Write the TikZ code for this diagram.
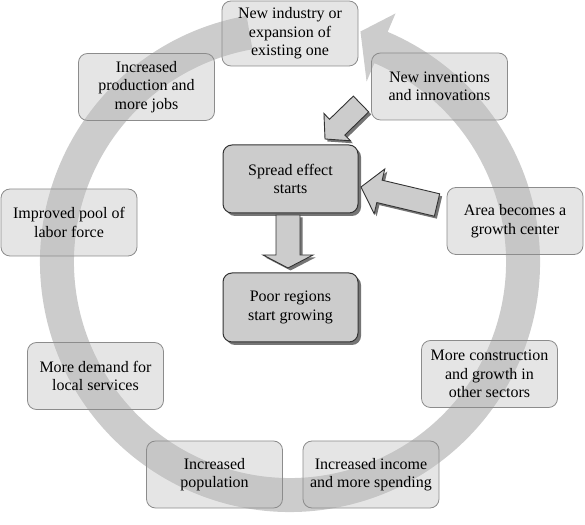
\documentclass[tikz,border=0pt]{standalone}
\usepackage{fontspec}
\setmainfont{Liberation Serif}
\usetikzlibrary{calc,shadows}
\tikzset{
  txt/.style={font=\fontsize{16}{18.5}\selectfont},
  cyclebox/.style={txt, draw=black!45, line width=0.8pt, rounded corners=9pt,
    fill=black!25, fill opacity=0.4, text opacity=1,
    minimum width=136pt, minimum height=67pt, align=center, inner sep=2pt},
  corebox/.style={txt, draw=black!80, line width=1pt, rounded corners=9pt,
    fill=black!20, minimum width=135pt, minimum height=68pt, align=center, inner sep=2pt,
    drop shadow={shadow xshift=3pt, shadow yshift=-3pt, fill=black!60, opacity=0.9}},
  blockarrow/.style={draw=black!80, line width=0.9pt, fill=black!20, line join=miter,
    drop shadow={shadow xshift=2.5pt, shadow yshift=-2.5pt, fill=black!60, opacity=0.9}},
  ringarrow/.style={fill=black!20, draw=none}
}
% #1 tail, #2 tip, #3 shaft half width, #4 head half width, #5 head length
\newcommand\blockarr[5]{%
  \coordinate (#1-#2-b) at ($(#2)!#5!(#1)$);
  \filldraw[blockarrow] ($(#1)!#3!90:(#2)$) -- ($(#1-#2-b)!#3!90:(#2)$)
    -- ($(#1-#2-b)!#4!90:(#2)$) -- (#2) -- ($(#1-#2-b)!#4!-90:(#2)$)
    -- ($(#1-#2-b)!#3!-90:(#2)$) -- ($(#1)!#3!-90:(#2)$) -- cycle;
}
\begin{document}
\begin{tikzpicture}[x=1pt,y=1pt]
\useasboundingbox (0,0) rectangle (585,524);
\coordinate (C) at (290,262);
% big circular arrow
\fill[ringarrow] ($(C)+(100:250pt)$) arc[start angle=100, end angle=427, radius=250pt]
  -- ($(C)+(427:270pt)$) -- ($(C)+(433:241pt)$) -- ($(C)+(427:196pt)$)
  -- ($(C)+(427:216pt)$) arc[start angle=427, end angle=100, radius=216pt] -- cycle;
% cycle boxes
\node[cyclebox, minimum height=65pt] (ind) at (290,490.5) {New industry or\\expansion of\\existing one};
\node[cyclebox] (inv) at (439.5,437.5) {New inventions\\and innovations};
\node[cyclebox] (prod) at (146.5,437) {Increased\\production and\\more jobs};
\node[cyclebox] (labor) at (69,301.5) {Improved pool of\\labor force};
\node[cyclebox] (serv) at (95.5,148) {More demand for\\local services};
\node[cyclebox] (area) at (515,303) {Area becomes a\\growth center};
\node[cyclebox] (cons) at (489.5,150) {More construction\\and growth in\\other sectors};
\node[cyclebox] (pop) at (214.5,49.5) {Increased\\population};
\node[cyclebox] (inc) at (371,49.5) {Increased income\\and more spending};
% core boxes
\node[corebox] (spread) at (290.5,345) {Spread effect\\starts};
\node[corebox, minimum height=69pt] (poor) at (290.5,216.5) {Poor regions\\start growing};
% block arrows
\coordinate (invT) at (361,420);
\coordinate (invH) at (325,385);
\coordinate (areaT) at (437,319);
\coordinate (areaH) at (361,337);
\coordinate (spT) at (288,309);
\coordinate (spH) at (288,256);
\blockarr{invT}{invH}{11pt}{19pt}{17pt}
\blockarr{areaT}{areaH}{11.5pt}{23pt}{19pt}
\blockarr{spT}{spH}{12pt}{25pt}{13pt}
\end{tikzpicture}
\end{document}
